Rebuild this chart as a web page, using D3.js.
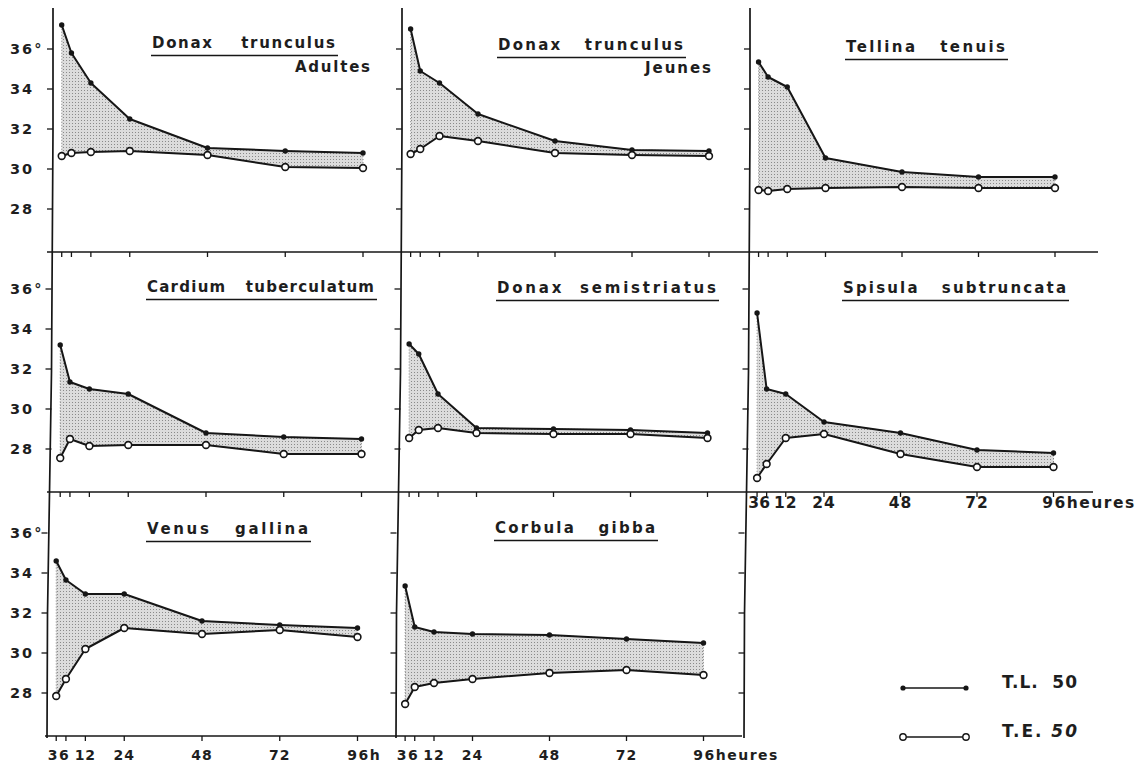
<!DOCTYPE html>
<html>
<head>
<meta charset="utf-8">
<script src="https://cdnjs.cloudflare.com/ajax/libs/d3/7.8.5/d3.min.js"></script>
<style>
	body { margin: 0; background: #fff; }
	svg text { font-family: "DejaVu Sans", sans-serif; font-weight: bold; fill: #1e1e1e; white-space: pre; }
</style>
</head>
<body>
<div class="chart"></div>
<script>

var hours = [3, 6, 12, 24, 48, 72, 96];
var yTicks = [28, 30, 32, 34, 36];

// T.L. 50 (points pleins) et T.E. 50 (cercles), en degres, aux heures ci-dessus
var dtAdultesTL = [37.2, 35.8, 34.3, 32.5, 31.05, 30.9, 30.8];
var dtAdultesTE = [30.65, 30.8, 30.85, 30.9, 30.7, 30.1, 30.05];
var dtJeunesTL = [37.0, 34.9, 34.3, 32.75, 31.4, 30.95, 30.9];
var dtJeunesTE = [30.75, 31.0, 31.65, 31.4, 30.8, 30.7, 30.65];
var tellinaTL = [35.35, 34.6, 34.1, 30.55, 29.85, 29.6, 29.6];
var tellinaTE = [28.95, 28.9, 29.0, 29.05, 29.1, 29.05, 29.05];
var cardiumTL = [33.2, 31.35, 31.0, 30.75, 28.8, 28.6, 28.5];
var cardiumTE = [27.55, 28.5, 28.15, 28.2, 28.2, 27.75, 27.75];
var semistriatusTL = [33.25, 32.75, 30.75, 29.05, 29.0, 28.95, 28.8];
var semistriatusTE = [28.55, 28.95, 29.05, 28.8, 28.75, 28.75, 28.55];
var spisulaTL = [34.8, 31.0, 30.75, 29.35, 28.8, 27.95, 27.8];
var spisulaTE = [26.55, 27.25, 28.55, 28.75, 27.75, 27.1, 27.1];
var venusTL = [34.6, 33.65, 32.95, 32.95, 31.6, 31.4, 31.25];
var venusTE = [27.85, 28.7, 30.2, 31.25, 30.95, 31.15, 30.8];
var corbulaTL = [33.35, 31.3, 31.05, 30.95, 30.9, 30.7, 30.5];
var corbulaTE = [27.45, 28.3, 28.5, 28.7, 29.0, 29.15, 28.9];

var titles = ["Donax    trunculus", "Donax   trunculus", "Tellina   tenuis",
	"Cardium   tuberculatum", "Donax  semistriatus", "Spisula   subtruncata",
	"Venus   gallina", "Corbula   gibba"];
var subtitles = ["Adultes", "Jeunes", "", "", "", "", "", ""];
var seriesTL = [dtAdultesTL, dtJeunesTL, tellinaTL, cardiumTL, semistriatusTL, spisulaTL, venusTL, corbulaTL];
var seriesTE = [dtAdultesTE, dtJeunesTE, tellinaTE, cardiumTE, semistriatusTE, spisulaTE, venusTE, corbulaTE];
var legendLabels = ["T.L.  50", "T.E. "];

var rowTop = [8, 252, 492], rowBottom = [252, 492, 736], rowShift = [0, -1.5, -5.5];
var colX0 = [52, 401, 749], colW = [311, 308, 306];
var titleBox = [[152, 48, 185], [498, 50, 187], [846, 52, 161], [147, 292, 229],
	[497, 293, 221], [843, 293, 225], [147, 534, 163], [495, 533, 162]];
var subBox = [[372, 72, 77], [713, 73, 68]];

var svg = d3.select(".chart").append("svg")
	.attr("width", 1139)
	.attr("height", 769);

var defs = svg.append("defs");
var pat = defs.append("pattern").attr("id", "stip")
	.attr("patternUnits", "userSpaceOnUse")
	.attr("width", 3).attr("height", 3);
pat.append("rect").attr("width", 3).attr("height", 3).attr("fill", "#dcdcdc");
pat.append("rect").attr("width", 1).attr("height", 1).attr("fill", "#8a8a8a");

var ink = "#161616";

function xScale(row, col){
	var x0 = colX0[col] + rowShift[row];
	return d3.scaleLinear().domain([0, 96]).range([x0, x0 + colW[col]]);
}
function yScale(row){
	var b = rowBottom[row];
	return d3.scaleLinear().domain([25.85, 36]).range([b, b - (36 - 25.85) * 20]);
}

// axes horizontaux
var hLines = [[47, 1098], [47, 1093], [45, 742]];
hLines.forEach(function(ext, r){
	svg.append("line")
		.attr("x1", ext[0]).attr("x2", ext[1])
		.attr("y1", rowBottom[r]).attr("y2", rowBottom[r])
		.style("stroke", ink).style("stroke-width", 1.7);
});

// axes verticaux (suivent le decalage du scan)
[0, 1, 2].forEach(function(c){
	var pts = [[colX0[c] + 1, 8], [colX0[c] + 1, 130],
		[colX0[c] + 1 + rowShift[1], 372], [colX0[c] + 1 + rowShift[2], 614],
		[colX0[c] + 1 + rowShift[2] - 0.5, 738]];
	svg.append("path")
		.attr("d", d3.line()(pts))
		.style("fill", "none").style("stroke", ink).style("stroke-width", 1.7);
});

// graduations des y dans chaque case, libelles seulement a gauche
[0, 1, 2].forEach(function(r){
	var y = yScale(r);
	[0, 1, 2].forEach(function(c){
		var ax = colX0[c] + 1 + rowShift[r];
		svg.selectAll(null).data(yTicks).enter().append("line")
			.attr("x1", ax - 6).attr("x2", ax)
			.attr("y1", function(d){ return y(d); })
			.attr("y2", function(d){ return y(d); })
			.style("stroke", ink).style("stroke-width", 1.3);
	});
	svg.selectAll(null).data(yTicks).enter().append("text")
		.attr("x", 10)
		.attr("y", function(d){ return y(d); })
		.attr("dy", "0.36em")
		.style("font-size", "14.5px")
		.style("letter-spacing", "2px")
		.text(function(d){ return d === 36 ? d + "°" : d; });
});

// graduations des x (sous chaque case)
for(var p = 0; p < 8; p++){
	var row = Math.floor(p / 3), col = p % 3;
	var x = xScale(row, col);
	svg.selectAll(null).data(hours).enter().append("line")
		.attr("x1", function(d){ return x(d); })
		.attr("x2", function(d){ return x(d); })
		.attr("y1", rowBottom[row]).attr("y2", rowBottom[row] + 5)
		.style("stroke", ink).style("stroke-width", 1.3);
}

// libelles des heures
function hourLabels(row, col, dy, size, last){
	var x = xScale(row, col);
	var nudge = {3: -3, 6: -1.5};
	svg.selectAll(null).data(hours).enter().append("text")
		.attr("y", rowBottom[row] + dy)
		.style("font-size", size + "px")
		.style("letter-spacing", "1px")
		.each(function(d){
			var t = d3.select(this);
			if(d === 96){
				t.text("96" + last).attr("x", 0).style("letter-spacing", "1.5px");
				var w = this.getSubStringLength(0, 2);
				t.attr("x", x(d) - w / 2 + 1);
			}else{
				t.attr("text-anchor", "middle")
					.attr("x", x(d) + (nudge[d] || 0))
					.text(d);
			}
		});
}
hourLabels(1, 2, 16, 15.5, "heures");
hourLabels(2, 0, 24, 14, "h");
hourLabels(2, 1, 24, 14, "heures");

// les courbes
for(var p = 0; p < 8; p++){
	var row = Math.floor(p / 3), col = p % 3;
	var x = xScale(row, col), y = yScale(row);
	var data = hours.map(function(h, i){
		return {h: h, tl: seriesTL[p][i], te: seriesTE[p][i]};
	});

	svg.append("path")
		.attr("d", d3.area()
			.x(function(d){ return x(d.h); })
			.y0(function(d){ return y(d.te); })
			.y1(function(d){ return y(d.tl); })(data))
		.style("fill", "url(#stip)")
		.style("stroke", "#777")
		.style("stroke-width", 0.9)
		.style("stroke-dasharray", "1,2");

	["tl", "te"].forEach(function(k){
		svg.append("path")
			.attr("d", d3.line()
				.x(function(d){ return x(d.h); })
				.y(function(d){ return y(d[k]); })(data))
			.style("fill", "none").style("stroke", ink)
			.style("stroke-width", 2).style("stroke-linejoin", "round");
	});

	svg.selectAll(null).data(data).enter().append("circle")
		.attr("cx", function(d){ return x(d.h); })
		.attr("cy", function(d){ return y(d.tl); })
		.attr("r", 2.7)
		.style("fill", ink);
	svg.selectAll(null).data(data).enter().append("circle")
		.attr("cx", function(d){ return x(d.h); })
		.attr("cy", function(d){ return y(d.te); })
		.attr("r", 3.4)
		.style("fill", "#fff").style("stroke", ink).style("stroke-width", 1.6);

	// titre souligne
	var tb = titleBox[p];
	svg.append("text")
		.attr("xml:space", "preserve")
		.attr("x", tb[0]).attr("y", tb[1])
		.attr("textLength", tb[2]).attr("lengthAdjust", "spacing")
		.style("font-size", "15px")
		.style("letter-spacing", "2px")
		.text(titles[p]);
	svg.append("line")
		.attr("x1", tb[0] - 1).attr("x2", tb[0] + tb[2] + 1)
		.attr("y1", tb[1] + 7.5).attr("y2", tb[1] + 7.5)
		.style("stroke", ink).style("stroke-width", 1.6);

	if(subtitles[p]){
		var sb = subBox[p];
		svg.append("text")
			.attr("x", sb[0] - sb[2]).attr("y", sb[1])
			.attr("textLength", sb[2]).attr("lengthAdjust", "spacing")
			.style("font-size", "15px")
			.style("letter-spacing", "2px")
			.text(subtitles[p]);
	}
}

// legende
var legY = [688, 737];
legY.forEach(function(ly, i){
	svg.append("line")
		.attr("x1", 903).attr("x2", 966)
		.attr("y1", ly).attr("y2", ly)
		.style("stroke", ink).style("stroke-width", 1.6);
	[903, 966].forEach(function(lx){
		if(i === 0){
			svg.append("circle").attr("cx", lx).attr("cy", ly).attr("r", 2.6).style("fill", ink);
		}else{
			svg.append("circle").attr("cx", lx).attr("cy", ly).attr("r", 3.2)
				.style("fill", "#fff").style("stroke", ink).style("stroke-width", 1.4);
		}
	});
	var t = svg.append("text")
		.attr("xml:space", "preserve")
		.attr("x", 1002).attr("y", ly)
		.attr("textLength", 75).attr("lengthAdjust", "spacing")
		.style("font-size", "17px")
		.text(legendLabels[i]);
	if(i === 1){
		t.append("tspan").style("font-style", "italic").text("50");
	}
});

</script>
</body>
</html>
